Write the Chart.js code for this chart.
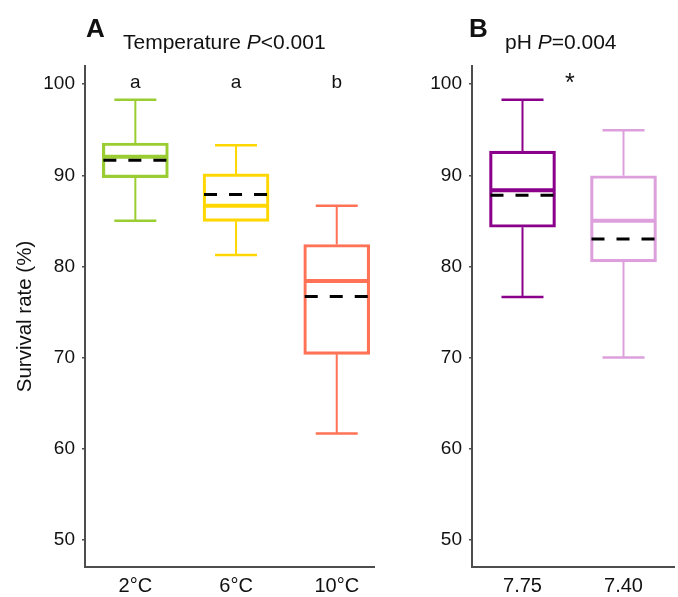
<!DOCTYPE html>
<html><head><meta charset="utf-8">
<script src="https://cdn.jsdelivr.net/npm/chart.js@4"></script>
<style>
body{margin:0;background:#fff;}
#wrap{position:relative;width:678px;height:597px;overflow:hidden;background:#fff;}
canvas{position:absolute;left:0;top:0;}
.t{position:absolute;font-family:"Liberation Sans",Arial,sans-serif;color:#111;line-height:1;white-space:nowrap;}
</style></head><body>
<div id="wrap">
<canvas id="cA" width="678" height="597"></canvas>
<canvas id="cB" width="678" height="597"></canvas>
<div class="t" style="left:86px;top:15px;font-size:26px;font-weight:bold">A</div>
<div class="t" style="left:123px;top:30.5px;font-size:21px">Temperature <i>P</i>&lt;0.001</div>
<div class="t" style="left:469px;top:15px;font-size:26px;font-weight:bold">B</div>
<div class="t" style="left:505px;top:30.5px;font-size:21px">pH <i>P</i>=0.004</div>
</div>
<script>
// ---- Data ----
const yTicks = [50, 60, 70, 80, 90, 100];

const categoriesA = ['2°C', '6°C', '10°C'];
const whiskerLowA = [85.0, 81.25, 61.65];
const q1A = [89.75, 84.95, 70.35];
const medianA = [92.05, 86.65, 78.4];
const q3A = [93.55, 90.15, 82.4];
const whiskerHighA = [98.3, 93.3, 86.65];
const meanA = [91.65, 87.9, 76.7];
const lettersA = ['a', 'a', 'b'];

const categoriesB = ['7.75', '7.40'];
const whiskerLowB = [76.65, 70.0];
const q1B = [84.3, 80.5];
const medianB = [88.35, 85.0];
const q3B = [92.65, 89.95];
const whiskerHighB = [98.3, 94.95];
const meanB = [87.8, 83.0];
const starB = ['*'];

// ---- Styles ----
const FONT = '"Liberation Sans", Arial, sans-serif';
const colorsA = ['#9ACD32', '#FFD700', '#FF7256'];
const colorsB = ['#8B008B', '#DDA0DD'];
const AXIS = '#4d4d4d';
const TXT = '#111';

const boxPlugin = {
  id: 'boxExtras',
  afterDatasetsDraw(chart, args, o) {
    const ctx = chart.ctx, xs = chart.scales.x, ys = chart.scales.y;
    const half = o.boxHalf, cap = o.capHalf;
    ctx.save();
    o.low.forEach((lo, i) => {
      const cx = xs.getPixelForValue(i + 1);
      const col = o.colors[i];
      ctx.strokeStyle = col;
      ctx.lineCap = 'butt';
      ctx.lineWidth = 2;
      ctx.beginPath();
      ctx.moveTo(cx, ys.getPixelForValue(o.q3[i]));
      ctx.lineTo(cx, ys.getPixelForValue(o.high[i]));
      ctx.moveTo(cx, ys.getPixelForValue(o.q1[i]));
      ctx.lineTo(cx, ys.getPixelForValue(lo));
      ctx.stroke();
      ctx.lineWidth = 2.5;
      ctx.beginPath();
      const yh = ys.getPixelForValue(o.high[i]);
      const yl = ys.getPixelForValue(lo);
      ctx.moveTo(cx - cap, yh); ctx.lineTo(cx + cap, yh);
      ctx.moveTo(cx - cap, yl); ctx.lineTo(cx + cap, yl);
      ctx.stroke();
      ctx.lineWidth = 4;
      const ym = ys.getPixelForValue(o.median[i]);
      ctx.beginPath();
      ctx.moveTo(cx - half, ym); ctx.lineTo(cx + half, ym);
      ctx.stroke();
      ctx.strokeStyle = '#000';
      ctx.lineWidth = 3;
      ctx.setLineDash([13, 12]);
      const yMean = ys.getPixelForValue(o.mean[i]);
      ctx.beginPath();
      ctx.moveTo(cx - half, yMean); ctx.lineTo(cx + half, yMean);
      ctx.stroke();
      ctx.setLineDash([]);
    });
    ctx.fillStyle = TXT;
    ctx.textAlign = 'center';
    ctx.textBaseline = 'middle';
    o.labels.forEach(l => {
      ctx.font = l.size + 'px ' + FONT;
      ctx.fillText(l.text, xs.getPixelForValue(l.x), ys.getPixelForValue(l.y));
    });
    ctx.restore();
  }
};

function makeChart(id, cats, low, q1, med, q3, high, mean, colors, xmin, xmax, pad, showTitle, labels) {
  return new Chart(document.getElementById(id), {
    type: 'bar',
    data: {
      datasets: [{
        data: cats.map((c, i) => ({ x: i + 1, y: [q1[i], q3[i]] })),
        backgroundColor: 'rgba(0,0,0,0)',
        borderColor: colors,
        borderWidth: 2.5,
        borderSkipped: false,
        barThickness: 66,
        grouped: false
      }]
    },
    options: {
      responsive: false,
      animation: false,
      events: [],
      layout: { padding: pad },
      plugins: {
        legend: { display: false },
        tooltip: { enabled: false },
        boxExtras: { low, q1, median: med, q3, high, mean, colors, boxHalf: 32, capHalf: 21, labels }
      },
      scales: {
        x: {
          type: 'linear', min: xmin, max: xmax, offset: false,
          afterFit: s => { s.height = 30; },
          afterBuildTicks: s => { s.ticks = cats.map((c, i) => ({ value: i + 1 })); },
          ticks: { callback: (v, i) => cats[i], font: { family: FONT, size: 20 }, color: TXT, padding: 7, autoSkip: false, maxRotation: 0 },
          grid: { drawOnChartArea: false, drawTicks: false, offset: false },
          border: { display: true, color: AXIS, width: 2 }
        },
        y: {
          type: 'linear', min: 47, max: 102,
          afterFit: s => { s.width = 85; },
          afterBuildTicks: s => { s.ticks = yTicks.map(v => ({ value: v })); },
          ticks: { font: { family: FONT, size: 19 }, color: TXT, padding: 7 },
          grid: { drawOnChartArea: false, drawTicks: true, tickLength: 3, color: AXIS, lineWidth: 1.5 },
          border: { display: true, color: AXIS, width: 2 },
          title: { display: showTitle, text: 'Survival rate (%)', font: { family: FONT, size: 20.5 }, color: TXT, padding: { top: 13, bottom: 0 } }
        }
      }
    },
    plugins: [boxPlugin]
  });
}

makeChart('cA', categoriesA, whiskerLowA, q1A, medianA, q3A, whiskerHighA, meanA, colorsA,
  0.5, 3.37, { left: 0, top: 66, right: 304, bottom: 0 }, true,
  lettersA.map((t, i) => ({ text: t, x: i + 1, y: 100.2, size: 19 })));

makeChart('cB', categoriesB, whiskerLowB, q1B, medianB, q3B, whiskerHighB, meanB, colorsB,
  0.5, 2.5, { left: 387, top: 66, right: 4, bottom: 0 }, false,
  starB.map(t => ({ text: t, x: 1.47, y: 100.0, size: 25 })));
</script>
</body></html>
